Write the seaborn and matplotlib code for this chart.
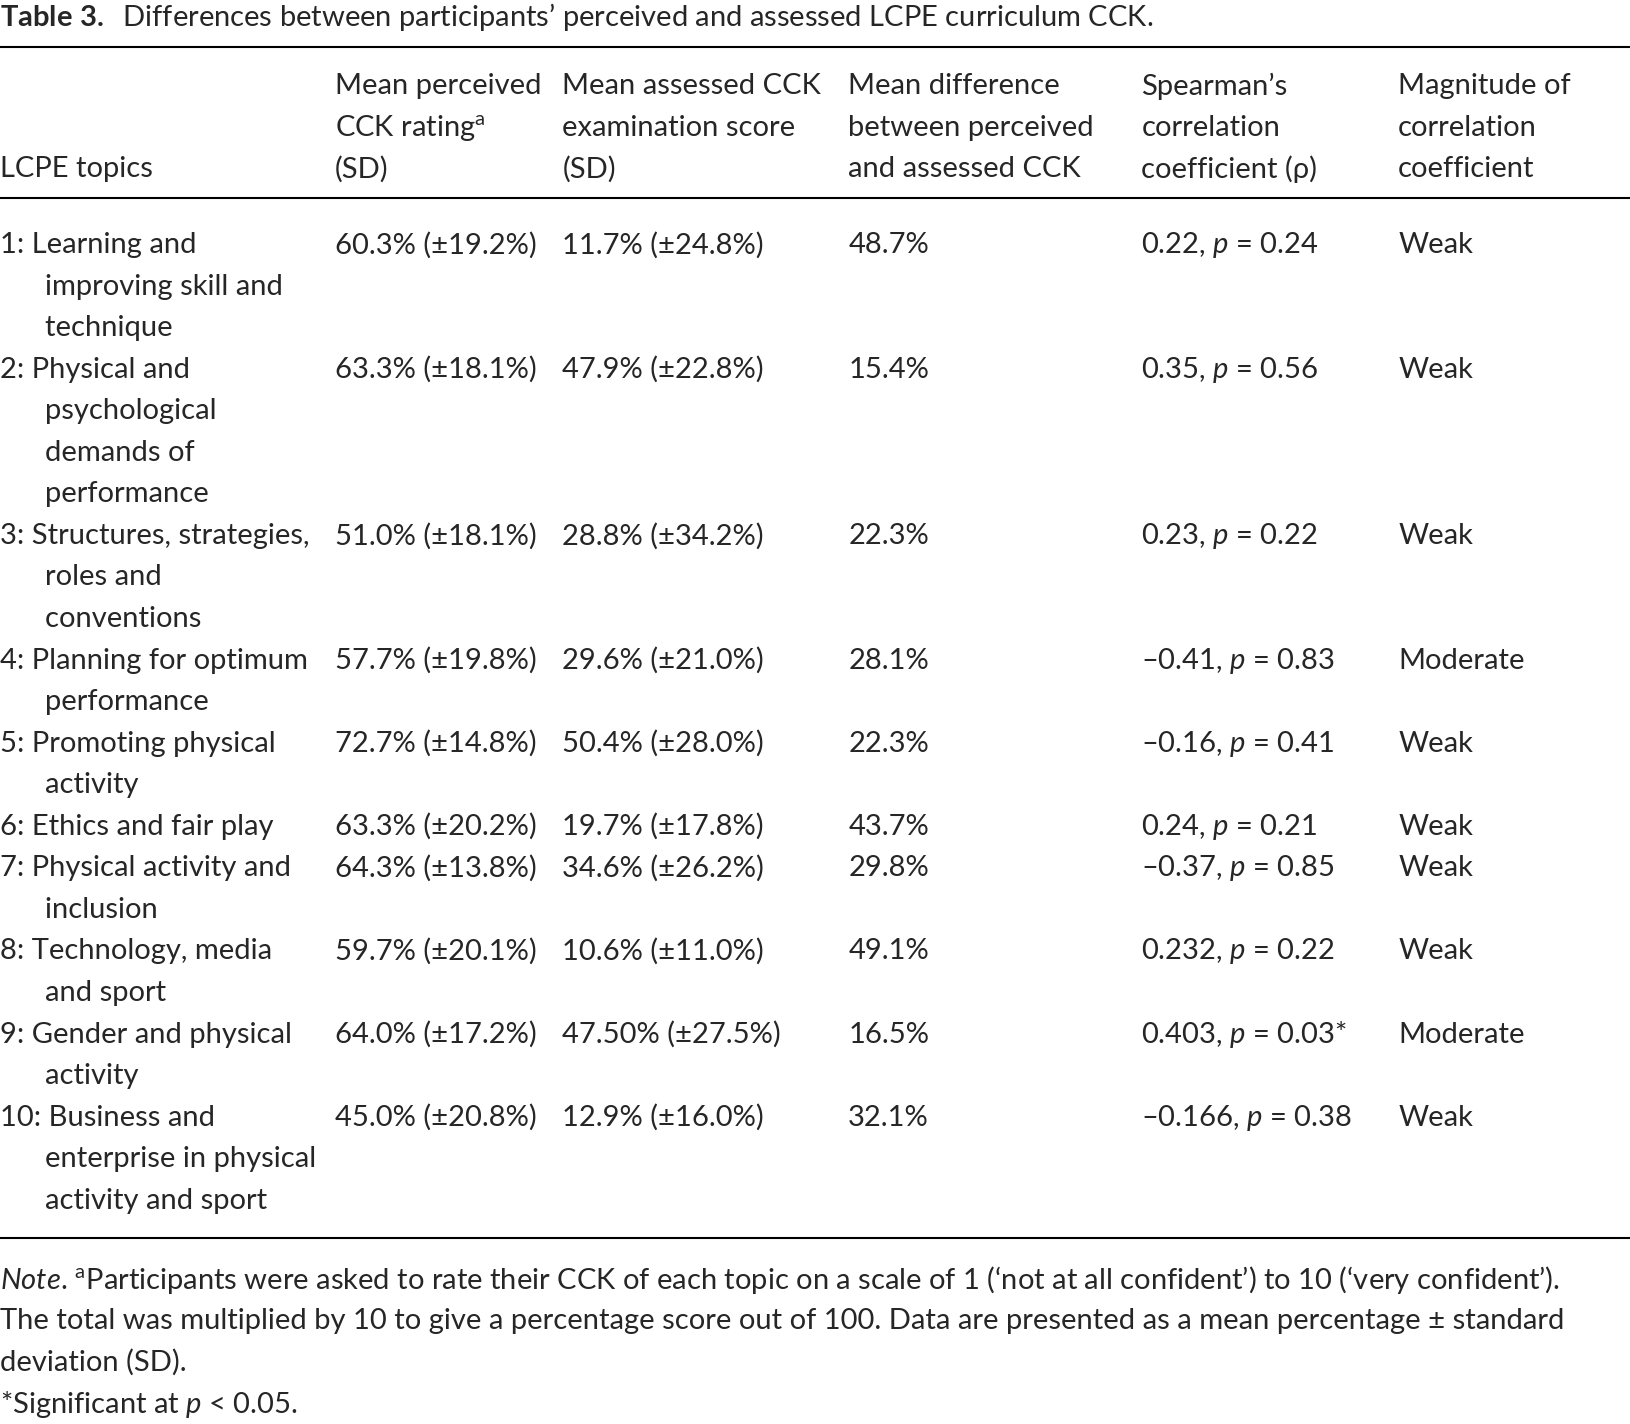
import matplotlib.pyplot as plt
import seaborn as sns

sns.set_theme(style="white")
plt.rcParams['font.family'] = ['Lato', 'DejaVu Sans']
plt.rcParams['mathtext.fontset'] = 'custom'
plt.rcParams['mathtext.rm'] = 'Lato'
plt.rcParams['mathtext.it'] = 'Lato:italic'
plt.rcParams['mathtext.bf'] = 'Lato:bold'

# reference pixel grid (1568 x 1371)
W, H = 1568.0, 1371.0

title = "$\\bf{Table\\ 3.}$  Differences between participants\u2019 perceived and assessed LCPE curriculum CCK."

headers = [
    ["", "", "LCPE topics"],
    ["Mean perceived", "CCK rating$^{\\mathrm{a}}$", "(SD)"],
    ["Mean assessed CCK", "examination score", "(SD)"],
    ["Mean difference", "between perceived", "and assessed CCK"],
    ["Spearman\u2019s", "correlation", "coefficient (\u03c1)"],
    ["Magnitude of", "correlation", "coefficient"],
]

ind = "      "
topics = [
    ["1: Learning and", ind + "improving skill and", ind + "technique"],
    ["2: Physical and", ind + "psychological", ind + "demands of", ind + "performance"],
    ["3: Structures, strategies,", ind + "roles and", ind + "conventions"],
    ["4: Planning for optimum", ind + "performance"],
    ["5: Promoting physical", ind + "activity"],
    ["6: Ethics and fair play"],
    ["7: Physical activity and", ind + "inclusion"],
    ["8: Technology, media", ind + "and sport"],
    ["9: Gender and physical", ind + "activity"],
    ["10: Business and", ind + "enterprise in physical", ind + "activity and sport"],
]
perceived = ["60.3% (\u00b119.2%)", "63.3% (\u00b118.1%)", "51.0% (\u00b118.1%)", "57.7% (\u00b119.8%)",
             "72.7% (\u00b114.8%)", "63.3% (\u00b120.2%)", "64.3% (\u00b113.8%)", "59.7% (\u00b120.1%)",
             "64.0% (\u00b117.2%)", "45.0% (\u00b120.8%)"]
assessed = ["11.7% (\u00b124.8%)", "47.9% (\u00b122.8%)", "28.8% (\u00b134.2%)", "29.6% (\u00b121.0%)",
            "50.4% (\u00b128.0%)", "19.7% (\u00b117.8%)", "34.6% (\u00b126.2%)", "10.6% (\u00b111.0%)",
            "47.50% (\u00b127.5%)", "12.9% (\u00b116.0%)"]
difference = ["48.7%", "15.4%", "22.3%", "28.1%", "22.3%", "43.7%", "29.8%", "49.1%", "16.5%", "32.1%"]
rho = ["0.22", "0.35", "0.23", "\u20130.41", "\u20130.16", "0.24", "\u20130.37", "0.232", "0.403", "\u20130.166"]
pval = ["0.24", "0.56", "0.22", "0.83", "0.41", "0.21", "0.85", "0.22", "0.03*", "0.38"]
magnitude = ["Weak", "Weak", "Weak", "Moderate", "Weak", "Weak", "Weak", "Weak", "Moderate", "Weak"]

notes = [
    "$\\it{Note}$. $^{\\mathrm{a}}$Participants were asked to rate their CCK of each topic on a scale of 1 (\u2018not at all confident\u2019) to 10 (\u2018very confident\u2019).",
    "The total was multiplied by 10 to give a percentage score out of 100. Data are presented as a mean percentage \u00b1 standard",
    "deviation (SD).",
    "*Significant at $\\it{p}$ < 0.05.",
]

col_x = [0, 322, 541, 816, 1098, 1345]
line_h = 40.0
row_y0 = 236

fig = plt.figure(figsize=(16.3, 14.24), dpi=100)
ax = fig.add_axes([0, 0, 1, 1])
ax.set_xlim(0, W)
ax.set_ylim(H, 0)
ax.axis('off')

fs = 21

ax.text(0, 16, title, fontsize=fs, va='center', ha='left')

for y in (45, 191, 1192):
    ax.plot([0, W], [y, y], color='black', lw=1.5)

for x, hdr in zip(col_x, headers):
    for k, line in enumerate(hdr):
        ax.text(x, 83 + k * line_h, line, fontsize=fs, va='center', ha='left')

y = row_y0
for i in range(len(topics)):
    for k, line in enumerate(topics[i]):
        ax.text(col_x[0], y + k * line_h, line, fontsize=fs, va='center', ha='left')
    ax.text(col_x[1], y, perceived[i], fontsize=fs, va='center')
    ax.text(col_x[2], y, assessed[i], fontsize=fs, va='center')
    ax.text(col_x[3], y, difference[i], fontsize=fs, va='center')
    ax.text(col_x[4], y, rho[i] + ", $\\it{p}$ = " + pval[i], fontsize=fs, va='center')
    ax.text(col_x[5], y, magnitude[i], fontsize=fs, va='center')
    y += line_h * len(topics[i])

for k, line in enumerate(notes):
    ax.text(0, 1232 + k * line_h, line, fontsize=fs, va='center', ha='left')

fig.savefig("out.png", dpi=100)
